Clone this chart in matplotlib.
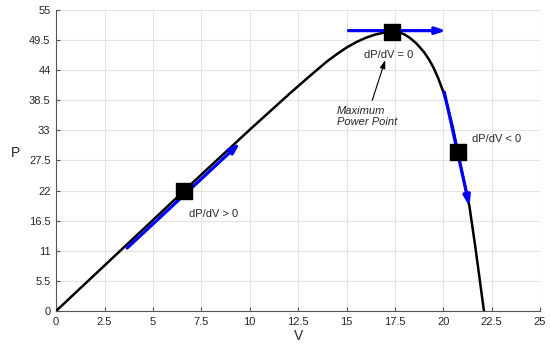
import matplotlib.pyplot as plt
import numpy as np

plt.rcParams['font.family'] = ['Liberation Sans', 'DejaVu Sans']

# P-V curve
volts = [0, 2.5, 5, 7.5, 10, 11, 12, 13, 14, 14.5, 15, 15.5, 16, 16.5, 17, 17.35,
         17.7, 18.0, 18.3, 18.6, 19.0, 19.25, 19.5, 19.75, 20.0, 20.25, 20.5,
         20.75, 21.0, 21.35, 21.65, 22.1]
power = [0, 8.3, 16.6, 24.9, 33.1, 36.3, 39.5, 42.6, 45.6, 46.9, 48.1, 49.1, 49.9,
         50.5, 50.9, 51.05, 50.9, 50.5, 49.8, 48.9, 47.3, 46.0, 44.4, 42.4, 40.0,
         37.0, 33.4, 29.1, 24.9, 19.1, 11.8, 0]

# marked operating points
pt_v = [6.6, 17.35, 20.75]
pt_p = [21.9, 51.0, 29.0]

# tangent arrows (start, end)
arrows = [((3.67, 11.5), (9.5, 30.7)),
          ((15.1, 51.2), (20.15, 51.2)),
          ((20.05, 40.0), (21.35, 19.1))]

labels = ["dP/dV > 0", "dP/dV = 0", "dP/dV < 0"]
label_pos = [(6.85, 17.7), (15.9, 46.7), (21.5, 31.5)]

xticks = np.arange(0, 25.1, 2.5)
yticks = np.arange(0, 55.1, 5.5)

fig = plt.figure(figsize=(5.5, 3.51), dpi=100)
ax = fig.add_axes([0.102, 0.114, 0.880, 0.858])

ax.plot(volts, power, color="black", lw=1.8, zorder=3)

for (x0, y0), (x1, y1) in arrows:
    ax.annotate("", xy=(x1, y1), xytext=(x0, y0),
                arrowprops=dict(arrowstyle="-|>,head_length=0.6,head_width=0.2",
                                color="blue", lw=2.3, shrinkA=0, shrinkB=0),
                zorder=4)

ax.scatter(pt_v, pt_p, marker="s", s=125, color="black", zorder=5)

for txt, (x, y) in zip(labels, label_pos):
    ax.text(x, y, txt, fontsize=8, color="#262626", ha="left", va="center")

ax.annotate("Maximum\nPower Point", xy=(17.0, 45.8), xytext=(14.5, 35.5),
            fontsize=8, style="italic", color="#262626", ha="left", va="center",
            arrowprops=dict(arrowstyle="-|>,head_length=0.6,head_width=0.2",
                            color="black", lw=0.8, shrinkA=2, shrinkB=0))

ax.set_xlim(0, 25)
ax.set_ylim(0, 55)
ax.set_xticks(xticks)
ax.set_yticks(yticks)
ax.set_xticklabels([f"{t:g}" for t in xticks])
ax.set_yticklabels([f"{t:g}" for t in yticks])
ax.tick_params(direction="in", length=3, labelsize=8, colors="#262626",
               color="#555555", pad=4)
ax.grid(True, color="#e3e3e3", lw=0.8)
ax.set_axisbelow(True)
for side in ["top", "right"]:
    ax.spines[side].set_visible(False)
for side in ["left", "bottom"]:
    ax.spines[side].set_color("#555555")
    ax.spines[side].set_linewidth(0.8)

ax.set_xlabel("V", fontsize=10, color="#262626", labelpad=2)
ax.set_ylabel("P", fontsize=10, color="#262626", rotation=0, labelpad=10)

fig.savefig("out.png", dpi=100)
